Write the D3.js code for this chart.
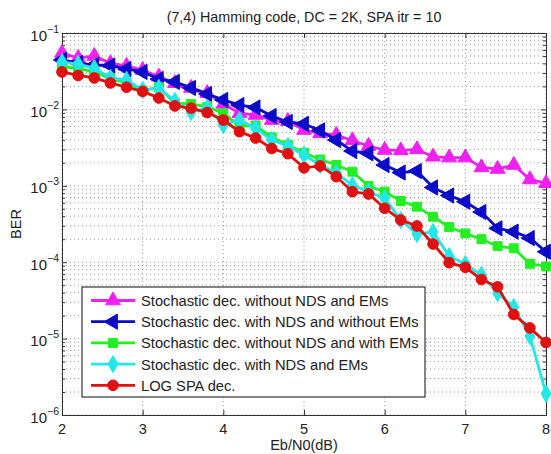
<!DOCTYPE html>
<html>
<head>
<meta charset="utf-8">
<script src="https://cdn.jsdelivr.net/npm/d3@7"></script>
<style>
  body { margin: 0; background: #fff; }
  text { font-family: "Liberation Sans", Arial, sans-serif; fill: #222; }
</style>
</head>
<body>
<script>
// Eb/N0 values (dB)
var ebn0 = [2.0, 2.2, 2.4, 2.6, 2.8, 3.0, 3.2, 3.4, 3.6, 3.8, 4.0, 4.2, 4.4, 4.6, 4.8, 5.0,
            5.2, 5.4, 5.6, 5.8, 6.0, 6.2, 6.4, 6.6, 6.8, 7.0, 7.2, 7.4, 7.6, 7.8, 8.0];

// BER for each decoder
var berNoNdsNoEm = [0.0547, 0.0471, 0.0500, 0.0401, 0.0370, 0.0328, 0.0268, 0.0220, 0.0191, 0.0163,
                    0.0118, 0.00889, 0.00845, 0.00726, 0.0070, 0.00537, 0.00486, 0.00462, 0.00392,
                    0.00332, 0.00294, 0.00290, 0.0030, 0.00240, 0.00234, 0.00234, 0.00174, 0.00166,
                    0.00187, 0.00121, 0.00108];
var berNdsNoEm = [0.0444, 0.0405, 0.0381, 0.0375, 0.0338, 0.0309, 0.0250, 0.0229, 0.0191, 0.0159,
                  0.0133, 0.0114, 0.0106, 0.00820, 0.00685, 0.00645, 0.00530, 0.00397, 0.00285,
                  0.00266, 0.00187, 0.00149, 0.00156, 0.000951, 0.000747, 0.000619, 0.000454,
                  0.000278, 0.000251, 0.000207, 0.000137];
var berNoNdsEm = [0.0362, 0.0345, 0.0309, 0.0255, 0.0222, 0.0176, 0.0195, 0.0121, 0.0118, 0.0108,
                  0.00889, 0.00607, 0.00616, 0.00431, 0.00342, 0.00271, 0.00221, 0.00187, 0.00153,
                  0.000993, 0.000837, 0.000633, 0.000533, 0.000394, 0.000289, 0.000238, 0.000200,
                  0.000162, 0.000152, 0.0000955, 0.0000879];
var berNdsEm = [0.0417, 0.0392, 0.0348, 0.0258, 0.0243, 0.0179, 0.0191, 0.0129, 0.00925, 0.0104,
                0.00625, 0.00726, 0.00566, 0.00397, 0.00332, 0.00253, 0.00187, 0.00147, 0.00102,
                0.000837, 0.000686, 0.000357, 0.000234, 0.000248, 0.000120, 0.0000946, 0.0000679,
                0.0000395, 0.0000259, 0.0000108, 0.0000019];
var berLogSpa = [0.0309, 0.0278, 0.0258, 0.0222, 0.0195, 0.0172, 0.0141, 0.0111, 0.0104, 0.0091,
                 0.00726, 0.00511, 0.00422, 0.00308, 0.00263, 0.00172, 0.00182, 0.00132, 0.000837,
                 0.000782, 0.000508, 0.000357, 0.000298, 0.000173, 0.0000985, 0.0000857, 0.0000594,
                 0.0000477, 0.0000207, 0.0000138, 0.0000089];

var seriesNames = ["Stochastic dec. without NDS and EMs",
                   "Stochastic dec. with NDS and without EMs",
                   "Stochastic dec. without NDS and with EMs",
                   "Stochastic dec. with NDS and EMs",
                   "LOG SPA dec."];
var seriesValues = [berNoNdsNoEm, berNdsNoEm, berNoNdsEm, berNdsEm, berLogSpa];
var seriesColors = ["#f020f0", "#0a0ac8", "#22ee22", "#22e8e8", "#e01010"];
var seriesMarkers = ["up", "left", "square", "diamond", "circle"];

var xTicks = [2, 3, 4, 5, 6, 7, 8];
var yExps = [-6, -5, -4, -3, -2, -1];

var W = 551, H = 454;
var margin = {top: 33, right: 5, bottom: 39, left: 62};
var width = W - margin.left - margin.right,
    height = H - margin.top - margin.bottom;

var svg = d3.select("body").append("svg")
    .attr("width", W)
    .attr("height", H);

var g = svg.append("g")
    .attr("transform", "translate(" + margin.left + "," + margin.top + ")");

var x = d3.scaleLinear().domain([2, 8]).range([0, width]);
var y = d3.scaleLog().domain([1e-6, 1e-1]).range([height, 0]);

// minor log ticks
var minorY = [];
yExps.forEach(function(e) {
    if (e === -1) return;
    for (var k = 2; k <= 9; k++) minorY.push(k * Math.pow(10, e));
});
var majorY = yExps.map(function(e) { return Math.pow(10, e); });

// grid
var grid = g.append("g").attr("class", "grid");
grid.selectAll("line.gy")
    .data(minorY.concat(majorY))
    .enter().append("line")
    .attr("x1", 0).attr("x2", width)
    .attr("y1", function(d) { return y(d); })
    .attr("y2", function(d) { return y(d); })
    .attr("stroke", "#999")
    .attr("stroke-width", 1)
    .attr("stroke-dasharray", "1,3");
grid.selectAll("line.gx")
    .data(xTicks)
    .enter().append("line")
    .attr("y1", 0).attr("y2", height)
    .attr("x1", function(d) { return x(d); })
    .attr("x2", function(d) { return x(d); })
    .attr("stroke", "#999")
    .attr("stroke-width", 1)
    .attr("stroke-dasharray", "1,3");

// axes with inward ticks
function styleAxis(sel) {
    sel.select(".domain").attr("stroke", "#333");
    sel.selectAll(".tick line").attr("stroke", "#333");
    sel.selectAll(".tick text").remove();
}
g.append("g").attr("transform", "translate(0," + height + ")")
    .call(d3.axisBottom(x).tickValues(xTicks).tickSizeInner(-5).tickSizeOuter(0))
    .call(styleAxis);
g.append("g")
    .call(d3.axisTop(x).tickValues(xTicks).tickSizeInner(-5).tickSizeOuter(0))
    .call(styleAxis);
g.append("g")
    .call(d3.axisLeft(y).tickValues(majorY).tickSizeInner(-5).tickSizeOuter(0))
    .call(styleAxis);
g.append("g").attr("transform", "translate(" + width + ",0)")
    .call(d3.axisRight(y).tickValues(majorY).tickSizeInner(-5).tickSizeOuter(0))
    .call(styleAxis);
g.append("g")
    .call(d3.axisLeft(y).tickValues(minorY).tickSizeInner(-3).tickSizeOuter(0))
    .call(styleAxis);
g.append("g").attr("transform", "translate(" + width + ",0)")
    .call(d3.axisRight(y).tickValues(minorY).tickSizeInner(-3).tickSizeOuter(0))
    .call(styleAxis);

// tick labels
g.selectAll("text.xl")
    .data(xTicks)
    .enter().append("text")
    .attr("x", function(d) { return x(d); })
    .attr("y", height + 19)
    .attr("text-anchor", "middle")
    .style("font-size", "14.5px")
    .text(function(d) { return d; });

var yl = g.selectAll("g.yl")
    .data(yExps)
    .enter().append("g")
    .attr("transform", function(d) { return "translate(0," + y(Math.pow(10, d)) + ")"; });
yl.append("text")
    .attr("x", -15).attr("y", 7.5)
    .attr("text-anchor", "end")
    .style("font-size", "15px")
    .text("10");
yl.append("text")
    .attr("x", -15).attr("y", -0.5)
    .style("font-size", "10.5px")
    .text(function(d) { return "\u2212" + (-d); });

// titles
svg.append("text")
    .attr("x", margin.left + width / 2).attr("y", 22)
    .attr("text-anchor", "middle")
    .style("font-size", "14.3px")
    .text("(7,4) Hamming code, DC = 2K, SPA itr = 10");
svg.append("text")
    .attr("x", margin.left + width / 2).attr("y", 450)
    .attr("text-anchor", "middle")
    .style("font-size", "14.5px")
    .text("Eb/N0(dB)");
svg.append("text")
    .attr("transform", "translate(21," + (margin.top + height / 2) + ") rotate(-90)")
    .attr("text-anchor", "middle")
    .style("font-size", "14.5px")
    .text("BER");

// markers
function markerPath(type) {
    if (type === "up") return d3.symbol().type(d3.symbolTriangle).size(95)();
    if (type === "left") return d3.symbol().type(d3.symbolTriangle).size(100)();
    if (type === "square") return d3.symbol().type(d3.symbolSquare).size(80)();
    if (type === "diamond") return d3.symbol().type(d3.symbolDiamond).size(85)();
    return d3.symbol().type(d3.symbolCircle).size(90)();
}
function markerRot(type) {
    return type === "left" ? " rotate(-90)" : "";
}

var line = d3.line()
    .x(function(d) { return x(d[0]); })
    .y(function(d) { return y(d[1]); });

var plot = g.append("g");
seriesValues.forEach(function(vals, si) {
    var pts = ebn0.map(function(e, i) { return [e, vals[i]]; });
    var sg = plot.append("g");
    sg.append("path")
        .datum(pts)
        .attr("d", line)
        .attr("fill", "none")
        .attr("stroke", seriesColors[si])
        .attr("stroke-width", 2.8);
    sg.selectAll("path.m")
        .data(pts)
        .enter().append("path")
        .attr("d", markerPath(seriesMarkers[si]))
        .attr("transform", function(d) {
            return "translate(" + x(d[0]) + "," + y(d[1]) + ")" + markerRot(seriesMarkers[si]);
        })
        .attr("fill", seriesColors[si])
        .attr("stroke", seriesColors[si])
        .attr("stroke-width", 1);
});

// legend
var lg = svg.append("g").attr("transform", "translate(82,287)");
lg.append("rect")
    .attr("width", 343).attr("height", 110)
    .attr("fill", "#fff")
    .attr("stroke", "#333")
    .attr("stroke-width", 1.2);
var items = lg.selectAll("g.item")
    .data(seriesNames)
    .enter().append("g")
    .attr("transform", function(d, i) { return "translate(0," + (13.5 + i * 21.2) + ")"; });
items.append("line")
    .attr("x1", 9).attr("x2", 53)
    .attr("stroke", function(d, i) { return seriesColors[i]; })
    .attr("stroke-width", 2.8);
items.append("path")
    .attr("d", function(d, i) { return markerPath(seriesMarkers[i]); })
    .attr("transform", function(d, i) { return "translate(31,0)" + markerRot(seriesMarkers[i]); })
    .attr("fill", function(d, i) { return seriesColors[i]; })
    .attr("stroke", function(d, i) { return seriesColors[i]; });
items.append("text")
    .attr("x", 59).attr("y", 5.5)
    .style("font-size", "14.7px")
    .text(function(d) { return d; });
</script>
</body>
</html>
